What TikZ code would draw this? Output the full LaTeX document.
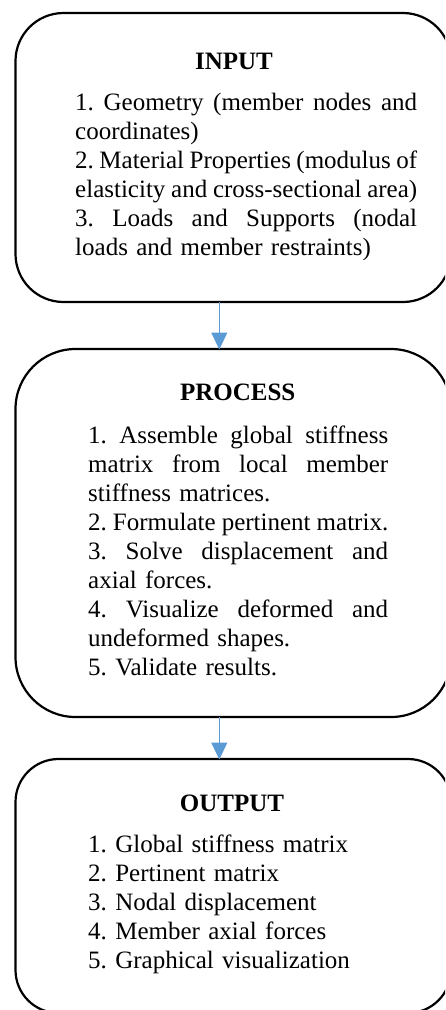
\documentclass[tikz,border=0pt]{standalone}
\usepackage{fontspec}
\setmainfont{Liberation Serif}
\usetikzlibrary{arrows.meta}
\definecolor{arrowblue}{HTML}{5B9BD5}
\tikzset{
  stagebox/.style={draw=black, line width=2.2pt, fill=white},
  headtxt/.style={anchor=base, inner sep=0pt, font={\fontsize{25}{29}\selectfont\bfseries}},
  bodytxt/.style={anchor=base west, inner sep=0pt, align=left, font={\fontsize{25}{29}\selectfont\frenchspacing}},
  flowarrow/.style={draw=arrowblue, line width=1.2pt, -{Triangle[width=16pt,length=17pt]}, shorten >=-0.5pt}
}
\newcommand{\jl}[2]{\leavevmode\hbox to #1{\spaceskip=0.25em plus 1em minus 0.1em\relax #2}}
\begin{document}
\begin{tikzpicture}[x=1pt,y=1pt]
\useasboundingbox (0,0) rectangle (445,-1010);
\clip (0,0) rectangle (445,-1010);
\fill[white] (0,0) rectangle (445,-1010);
% boxes
\draw[stagebox, rounded corners=48pt] (15.5,-13) rectangle (451,-302);
\draw[stagebox, rounded corners=60pt] (15.5,-349) rectangle (451,-717);
\draw[stagebox, rounded corners=43pt] (15.5,-759) rectangle (451,-1013);
\coordinate (inB) at (219.3,-302);
\coordinate (prT) at (219.3,-349);
\coordinate (prB) at (219.3,-717);
\coordinate (outT) at (219.3,-759);
% arrows
\draw[flowarrow] (inB) -- (prT);
\draw[flowarrow] (prB) -- (outT);
% texts
\node[headtxt] (inH) at (234,-69) {INPUT};
\node[bodytxt, text width=342pt] (inT) at (75,-110) {%
\jl{342pt}{1. Geometry (member nodes and}\\
coordinates)\\
\jl{342pt}{2. Material Properties (modulus of}\\
\jl{342pt}{elasticity and cross-sectional area)}\\
\jl{342pt}{3. Loads and Supports (nodal}\\
loads and member restraints)};
\node[headtxt] (prH) at (237.7,-400.7) {PROCESS};
\node[bodytxt, text width=300pt] (prTx) at (88,-443.3) {%
\jl{300pt}{1. Assemble global stiffness}\\
\jl{300pt}{matrix from local member}\\
stiffness matrices.\\
\jl{300pt}{2. Formulate pertinent matrix.}\\
\jl{300pt}{3. Solve displacement and}\\
axial forces.\\
\jl{300pt}{4. Visualize deformed and}\\
undeformed shapes.\\
5. Validate results.};
\node[headtxt] (outH) at (232,-811) {OUTPUT};
\node[bodytxt, text width=300pt] (outTx) at (88,-852.7) {%
1. Global stiffness matrix\\
2. Pertinent matrix\\
3. Nodal displacement\\
4. Member axial forces\\
5. Graphical visualization};
\end{tikzpicture}
\end{document}
